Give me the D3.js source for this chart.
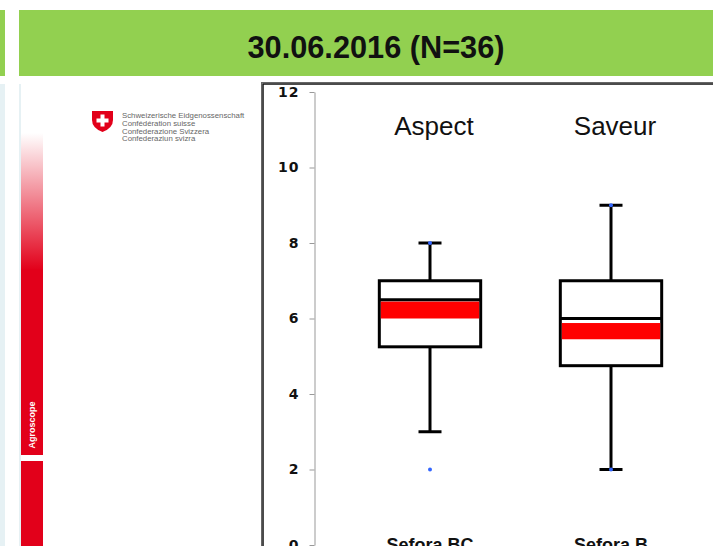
<!DOCTYPE html>
<html>
<head>
<meta charset="utf-8">
<script src="https://cdn.jsdelivr.net/npm/d3@7"></script>
<style>
  body { margin: 0; background: #fff; }
  svg { display: block; }
</style>
</head>
<body>
<svg id="chart" width="713" height="546"></svg>
<script>
// values
var categories = ["Sefora BC", "Sefora B"];
var attributes = ["Aspect", "Saveur"];
var whiskerLow = [3, 2];
var q1 = [5.25, 4.75];
var median = [6.5, 6];
var q3 = [7, 7];
var whiskerHigh = [8, 9];
var bandLow = [6.0, 5.45];   // red band
var bandHigh = [6.45, 5.88];
var points = [[8, 2], [9, 2]]; // blue dots
var yTicks = [0, 2, 4, 6, 8, 10, 12];
var title = "30.06.2016 (N=36)";

var svg = d3.select("#chart");

// --- slide decoration ---
var red = "#e2001a";
var defs = svg.append("defs");
var grad = defs.append("linearGradient")
  .attr("id", "fade").attr("x1", 0).attr("x2", 0).attr("y1", 0).attr("y2", 1);
grad.append("stop").attr("offset", "0%").attr("stop-color", red).attr("stop-opacity", 0);
grad.append("stop").attr("offset", "100%").attr("stop-color", red).attr("stop-opacity", 1);

svg.append("rect").attr("x", 0).attr("y", 10).attr("width", 5).attr("height", 66).attr("fill", "#92d050");
svg.append("rect").attr("x", 19).attr("y", 10).attr("width", 694).attr("height", 66).attr("fill", "#92d050");
svg.append("text")
  .attr("x", 376).attr("y", 58)
  .attr("text-anchor", "middle")
  .attr("transform", "translate(376,0) scale(0.96,1) translate(-376,0)")
  .style("font-family", "Liberation Sans, Arial, sans-serif")
  .style("font-weight", "bold").style("font-size", "32px")
  .attr("fill", "#111")
  .text(title);

svg.append("rect").attr("x", 0).attr("y", 84).attr("width", 5).attr("height", 462).attr("fill", "#e6f1f4");
svg.append("rect").attr("x", 19).attr("y", 84).attr("width", 2).attr("height", 462).attr("fill", "#e6f1f4");
svg.append("rect").attr("x", 21).attr("y", 133).attr("width", 22).attr("height", 137).attr("fill", "url(#fade)");
svg.append("rect").attr("x", 21).attr("y", 269).attr("width", 22).attr("height", 186).attr("fill", red);
svg.append("rect").attr("x", 21).attr("y", 461).attr("width", 22).attr("height", 85).attr("fill", red);
svg.append("text")
  .attr("transform", "translate(35,425) rotate(-90)")
  .attr("text-anchor", "middle")
  .style("font-family", "Liberation Sans, Arial, sans-serif")
  .style("font-weight", "bold").style("font-size", "9px")
  .attr("fill", "#fff")
  .text("Agroscope");

// swiss logo
var logo = svg.append("g").attr("transform", "translate(92,111)");
logo.append("path")
  .attr("d", "M0,0 H21 V9 Q21,17 10.5,21 Q0,17 0,9 Z")
  .attr("fill", red);
logo.append("path")
  .attr("d", "M8.5,3.5 H12.5 V7.5 H16.5 V11.5 H12.5 V15.5 H8.5 V11.5 H4.5 V7.5 H8.5 Z")
  .attr("fill", "#fff");
["Schweizerische Eidgenossenschaft", "Confédération suisse", "Confederazione Svizzera", "Confederaziun svizra"]
  .forEach(function(t, i) {
    svg.append("text")
      .attr("x", 122).attr("y", 118 + i * 7.8)
      .style("font-family", "Liberation Sans, Arial, sans-serif")
      .style("font-size", "7.8px")
      .attr("fill", "#666")
      .text(t);
  });

// chart frame
svg.append("rect").attr("x", 261.5).attr("y", 82.5).attr("width", 460).attr("height", 470)
  .attr("fill", "#fff").attr("stroke", "#666").attr("stroke-width", 1);
svg.append("rect").attr("x", 263).attr("y", 84).attr("width", 460).attr("height", 470)
  .attr("fill", "none").attr("stroke", "#111").attr("stroke-width", 1.5);

// --- chart ---
var y = d3.scaleLinear().domain([0, 12]).range([545, 92]);
var x = d3.scaleBand().domain(categories).range([339.5, 701.5]).padding(0);
var boxW = x.bandwidth() * 0.56;
var capW = 23;

var axis = svg.append("g")
  .attr("transform", "translate(314.5,0)")
  .call(d3.axisLeft(y).tickValues(yTicks).tickSize(5).tickSizeOuter(0).tickPadding(10));
axis.select(".domain").attr("stroke", "#999");
axis.selectAll(".tick line").attr("stroke", "#999");
axis.selectAll(".tick text")
  .style("font-family", "DejaVu Sans, Verdana, sans-serif")
  .style("font-weight", "bold").style("font-size", "14px")
  .style("letter-spacing", "1px")
  .attr("fill", "#111");

var rows = categories.map(function(c, i) {
  return { cat: c, attr: attributes[i], lo: whiskerLow[i], q1: q1[i], med: median[i],
           q3: q3[i], hi: whiskerHigh[i], bl: bandLow[i], bh: bandHigh[i], pts: points[i] };
});

var g = svg.selectAll(".box").data(rows).enter().append("g").attr("class", "box");
var cx = function(d) { return x(d.cat) + x.bandwidth() / 2; };

// whiskers
g.append("line").attr("x1", cx).attr("x2", cx)
  .attr("y1", d => y(d.q3)).attr("y2", d => y(d.hi))
  .attr("stroke", "#000").attr("stroke-width", 3);
g.append("line").attr("x1", cx).attr("x2", cx)
  .attr("y1", d => y(d.q1)).attr("y2", d => y(d.lo))
  .attr("stroke", "#000").attr("stroke-width", 3);
g.append("line").attr("x1", d => cx(d) - capW / 2).attr("x2", d => cx(d) + capW / 2)
  .attr("y1", d => y(d.hi)).attr("y2", d => y(d.hi))
  .attr("stroke", "#000").attr("stroke-width", 3);
g.append("line").attr("x1", d => cx(d) - capW / 2).attr("x2", d => cx(d) + capW / 2)
  .attr("y1", d => y(d.lo)).attr("y2", d => y(d.lo))
  .attr("stroke", "#000").attr("stroke-width", 3);

// box
g.append("rect")
  .attr("x", d => cx(d) - boxW / 2).attr("width", boxW)
  .attr("y", d => y(d.q3)).attr("height", d => y(d.q1) - y(d.q3))
  .attr("fill", "#fff").attr("stroke", "#000").attr("stroke-width", 3);

// red band
g.append("rect")
  .attr("x", d => cx(d) - boxW / 2 + 1.5).attr("width", boxW - 3)
  .attr("y", d => y(d.bh)).attr("height", d => y(d.bl) - y(d.bh))
  .attr("fill", "#ff0000");

// median
g.append("line")
  .attr("x1", d => cx(d) - boxW / 2).attr("x2", d => cx(d) + boxW / 2 + 1)
  .attr("y1", d => y(d.med)).attr("y2", d => y(d.med))
  .attr("stroke", "#000").attr("stroke-width", 3);

// points
g.selectAll(".pt").data(d => d.pts.map(v => ({ v: v, cx: cx(d) }))).enter()
  .append("circle").attr("class", "pt")
  .attr("cx", d => d.cx).attr("cy", d => y(d.v)).attr("r", 2)
  .attr("fill", "#3366ff");

// attribute labels
g.append("text")
  .attr("x", d => cx(d) + 4).attr("y", 135)
  .attr("text-anchor", "middle")
  .style("font-family", "Liberation Sans, Arial, sans-serif")
  .style("font-size", "26px")
  .attr("fill", "#111")
  .text(d => d.attr);

// category labels (cut by the bottom edge, as in the slide)
g.append("text")
  .attr("x", cx).attr("y", 551)
  .attr("text-anchor", "middle")
  .style("font-family", "Liberation Sans, Arial, sans-serif")
  .style("font-weight", "bold").style("font-size", "18px")
  .attr("fill", "#111")
  .text(d => d.cat);
</script>
</body>
</html>
